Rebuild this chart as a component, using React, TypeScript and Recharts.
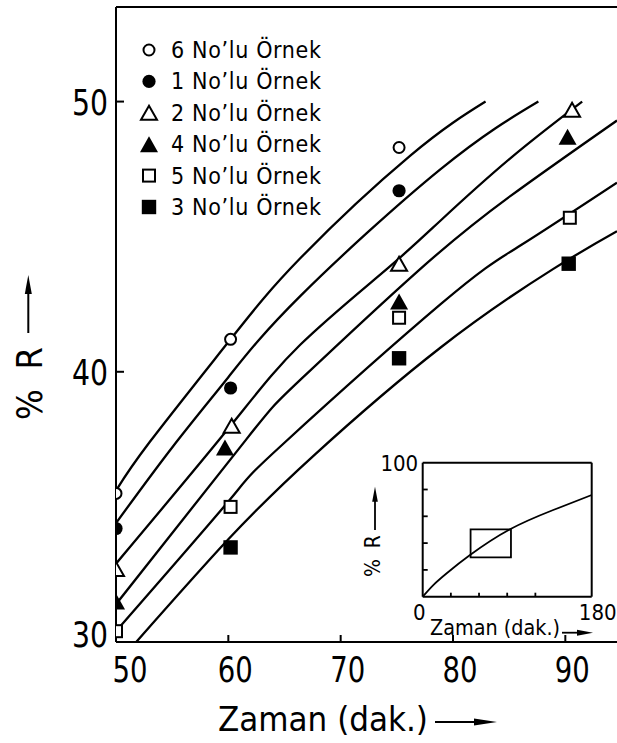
import React from 'react';
import { ComposedChart, LineChart, Line, Scatter, XAxis, YAxis, ReferenceLine, ReferenceArea, Legend } from 'recharts';

const FONT = "'Liberation Sans Narrow', 'DejaVu Sans Condensed', 'DejaVu Sans', sans-serif";

// ölçülen noktalar: [zaman (dak.), %R]
const ORNEK_6 = [[50, 35.5], [60.2, 41.2], [75.2, 48.3]];
const ORNEK_1 = [[50, 34.2], [60.2, 39.4], [75.2, 46.7]];
const ORNEK_2 = [[50, 32.7], [60.3, 38.0], [75.2, 44.0], [90.6, 49.7]];
const ORNEK_4 = [[50, 31.5], [59.7, 37.2], [75.2, 42.6], [90.2, 48.7]];
const ORNEK_5 = [[50, 30.4], [60.2, 35.0], [75.2, 42.0], [90.4, 45.7]];
const ORNEK_3 = [[60.2, 33.5], [75.2, 40.5], [90.3, 44.0]];

// eğriler (resimden okunan noktalar)
const EGRI_6 = [[50, 35.6], [53, 37.4], [60, 41.1], [66.4, 44.2], [76.2, 48.0], [82.9, 50.0]];
const EGRI_1 = [[50, 34.4], [55, 37.2], [60, 39.8], [66.4, 42.8], [78.9, 47.5], [87.6, 50.0]];
const EGRI_2 = [[50, 32.9], [60, 37.9], [66.4, 41.0], [74.1, 43.8], [78.9, 45.6], [85.1, 47.9], [91.5, 50.0]];
const EGRI_4 = [[50, 31.4], [61.6, 37.5], [66.4, 39.7], [76.8, 43.7], [85.1, 46.5], [94.6, 49.3]];
const EGRI_5 = [[50, 30.4], [60, 35.2], [64.8, 37.3], [78.9, 42.5], [86.1, 44.7], [94.6, 47.0]];
const EGRI_3 = [[51.8, 30.0], [60, 33.8], [67.6, 36.9], [78.9, 40.9], [88.9, 43.8], [94.6, 45.2]];

const X_TICKS = [50, 60, 70, 80, 90];
const Y_TICKS = [30, 40, 50];

// küçük grafik
const INSET_CURVE = [[0, 0], [11.3, 8.7], [25.6, 17.5], [50.4, 31.1], [93, 50.3], [139, 64.7], [180, 75.9]];
const INSET_X_TICKS = [0, 30, 60, 90, 120, 150, 180];
const INSET_Y_TICKS = [0, 10, 20, 30, 40, 50, 60, 70, 80, 90, 100];
const INSET_BOX = { x1: 51, x2: 94, y1: 29.4, y2: 50.3 };

const SERIES = [
  { name: '6 No’lu Örnek', points: ORNEK_6, curve: EGRI_6, mark: 'circleOpen' },
  { name: '1 No’lu Örnek', points: ORNEK_1, curve: EGRI_1, mark: 'circleFilled' },
  { name: '2 No’lu Örnek', points: ORNEK_2, curve: EGRI_2, mark: 'triOpen' },
  { name: '4 No’lu Örnek', points: ORNEK_4, curve: EGRI_4, mark: 'triFilled' },
  { name: '5 No’lu Örnek', points: ORNEK_5, curve: EGRI_5, mark: 'sqOpen' },
  { name: '3 No’lu Örnek', points: ORNEK_3, curve: EGRI_3, mark: 'sqFilled' },
];

const toXY = (arr: number[][]) => arr.map(([x, y]) => ({ x, y }));

function Mark({ kind, cx, cy }: { kind: string; cx: number; cy: number }) {
  switch (kind) {
    case 'circleOpen':
      return <circle cx={cx} cy={cy} r={5.5} fill="#fff" stroke="#000" strokeWidth={2} />;
    case 'circleFilled':
      return <circle cx={cx} cy={cy} r={6.6} fill="#000" />;
    case 'triOpen':
      return <polygon points={`${cx - 8},${cy + 7} ${cx + 8},${cy + 7} ${cx},${cy - 7}`} fill="#fff" stroke="#000" strokeWidth={2} />;
    case 'triFilled':
      return <polygon points={`${cx - 9},${cy + 8} ${cx + 9},${cy + 8} ${cx},${cy - 8}`} fill="#000" />;
    case 'sqOpen':
      return <rect x={cx - 6} y={cy - 6} width={12} height={12} fill="#fff" stroke="#000" strokeWidth={2} />;
    default:
      return <rect x={cx - 7.2} y={cy - 7.2} width={14.4} height={14.4} fill="#000" />;
  }
}

const XTick = ({ x, y, payload }: any) => {
  const v = payload.value;
  return (
    <g>
      {v !== 50 && <line x1={x} y1={y} x2={x} y2={y - 7} stroke="#000" strokeWidth={2} />}
      <text x={x + (v === 50 ? 14 : 7)} y={y + 40} textAnchor="middle" fontFamily={FONT} fontSize={36}
        textLength={35} lengthAdjust="spacingAndGlyphs" fill="#000">{v}</text>
    </g>
  );
};

const YTick = ({ x, y, payload }: any) => {
  const v = payload.value;
  return (
    <g>
      {v !== 30 && <line x1={x} y1={y} x2={x + 8} y2={y} stroke="#000" strokeWidth={2} />}
      <text x={x - 8} y={y + 13 + (v === 30 ? -8 : 0)} textAnchor="end" fontFamily={FONT} fontSize={36}
        textLength={36} lengthAdjust="spacingAndGlyphs" fill="#000">{v}</text>
    </g>
  );
};

const InsetXTick = ({ x, y, payload }: any) => {
  const v = payload.value;
  if (v === 0) return <text x={x - 3.5} y={y + 23.5} textAnchor="middle" fontFamily={FONT} fontSize={22} fill="#000">0</text>;
  if (v === 180) return <text x={x + 6} y={y + 23.5} textAnchor="middle" fontFamily={FONT} fontSize={22} fill="#000">180</text>;
  return <line x1={x} y1={y} x2={x} y2={y - 4} stroke="#000" strokeWidth={1.8} />;
};

const InsetYTick = ({ x, y, payload }: any) => {
  const v = payload.value;
  if (v === 100) return <text x={x - 4.5} y={y + 8} textAnchor="end" fontFamily={FONT} fontSize={22} fill="#000">100</text>;
  if (v === 0) return null;
  return <line x1={x} y1={y} x2={x + 5} y2={y} stroke="#000" strokeWidth={1.8} />;
};

const renderLegend = () => (
  <svg width={200} height={200}>
    {SERIES.map((s, i) => {
      const cy = 19 + i * 31.4;
      return (
        <g key={s.name}>
          <Mark kind={s.mark} cx={19} cy={cy} />
          <text x={41} y={cy + 8} fontFamily={FONT} fontSize={23} textLength={150} lengthAdjust="spacing" fill="#000">{s.name}</text>
        </g>
      );
    })}
  </svg>
);

export default function App() {
  return (
    <div style={{ position: 'absolute', left: 0, top: 0, width: 617, height: 743, background: '#fff' }}>
      <ComposedChart width={617} height={743} margin={{ top: 7, right: 0, left: 16, bottom: 41 }}>
        <XAxis type="number" dataKey="x" domain={[50, 94.6]} ticks={X_TICKS} allowDataOverflow
          height={60} stroke="#000" strokeWidth={2} tickLine={false} tickSize={0} tickMargin={0} tick={XTick} />
        <YAxis type="number" dataKey="y" domain={[30, 53.5]} ticks={Y_TICKS} allowDataOverflow
          width={100} stroke="#000" strokeWidth={2} tickLine={false} tickSize={0} tickMargin={0} tick={YTick} />
        <ReferenceLine y={53.5} stroke="#000" strokeWidth={2} />
        {SERIES.map((s) => (
          <Line key={'c' + s.name} data={toXY(s.curve)} dataKey="y" type="natural" dot={false}
            stroke="#000" strokeWidth={2.3} legendType="none" isAnimationActive={false} />
        ))}
        {SERIES.map((s) => (
          <Scatter key={'p' + s.name} name={s.name} data={toXY(s.points)} dataKey="y" isAnimationActive={false}
            shape={(p: any) => <Mark kind={s.mark} cx={p.cx} cy={p.cy} />} />
        ))}
        <Legend layout="vertical" align="center" verticalAlign="middle" content={renderLegend}
          wrapperStyle={{ left: 130, top: 31, width: 200, height: 200 }} />
        <text x={218} y={731} fontFamily={FONT} fontSize={34} textLength={210} lengthAdjust="spacingAndGlyphs" fill="#000">Zaman (dak.)</text>
        <line x1={435} y1={722} x2={480} y2={722} stroke="#000" strokeWidth={2} />
        <polygon points="474,718.5 497,722 474,725.5" fill="#000" />
        <text transform="translate(42,420) rotate(-90)" fontFamily={FONT} fontSize={36} textLength={73} lengthAdjust="spacing" fill="#000">% R</text>
        <line x1={28.3} y1={333} x2={28.3} y2={290} stroke="#000" strokeWidth={2} />
        <polygon points="24.8,294 28.3,275 31.8,294" fill="#000" />
      </ComposedChart>

      <div style={{ position: 'absolute', left: 340, top: 440 }}>
        <LineChart width={277} height={210} margin={{ top: 22.7, right: 25.3, left: 52.7, bottom: 33.3 }}>
          <XAxis type="number" dataKey="x" domain={[0, 180]} ticks={INSET_X_TICKS} height={20}
            stroke="#000" strokeWidth={2} tickLine={false} tickSize={0} tickMargin={0} tick={InsetXTick} />
          <YAxis type="number" dataKey="y" domain={[0, 100]} ticks={INSET_Y_TICKS} width={30}
            stroke="#000" strokeWidth={2} tickLine={false} tickSize={0} tickMargin={0} tick={InsetYTick} />
          <ReferenceLine y={100} stroke="#000" strokeWidth={2} />
          <ReferenceLine x={180} stroke="#000" strokeWidth={2} />
          <ReferenceArea x1={INSET_BOX.x1} x2={INSET_BOX.x2} y1={INSET_BOX.y1} y2={INSET_BOX.y2}
            fill="#fff" fillOpacity={0} stroke="#000" strokeWidth={1.8} />
          <Line data={toXY(INSET_CURVE)} dataKey="y" type="natural" dot={false} stroke="#000" strokeWidth={1.8} isAnimationActive={false} />
          <text x={90} y={195} fontFamily={FONT} fontSize={21} textLength={130} lengthAdjust="spacingAndGlyphs" fill="#000">Zaman (dak.)</text>
          <line x1={222} y1={192.7} x2={240} y2={192.7} stroke="#000" strokeWidth={1.8} />
          <polygon points="237,189.7 253,192.7 237,195.7" fill="#000" />
          <text transform="translate(40,137) rotate(-90)" fontFamily={FONT} fontSize={21} textLength={42} lengthAdjust="spacing" fill="#000">% R</text>
          <line x1={35} y1={90} x2={35} y2={58} stroke="#000" strokeWidth={1.8} />
          <polygon points="32.2,61.7 35,46.7 37.8,61.7" fill="#000" />
        </LineChart>
      </div>
    </div>
  );
}
